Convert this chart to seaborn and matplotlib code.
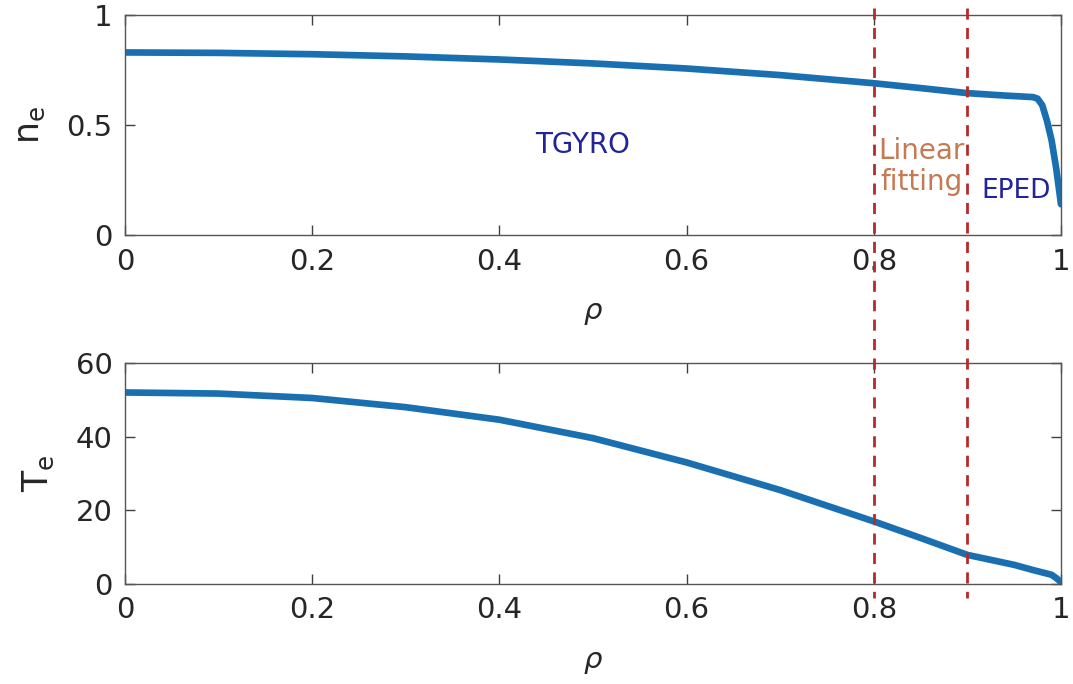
import numpy as np
import pandas as pd
import seaborn as sns
import matplotlib.pyplot as plt
from matplotlib.transforms import blended_transform_factory
from matplotlib.lines import Line2D

# electron density profile
rho_ne = [0.0, 0.1, 0.2, 0.3, 0.4, 0.5, 0.6, 0.7, 0.8, 0.85, 0.9, 0.94,
          0.97, 0.975, 0.98, 0.985, 0.99, 0.995, 1.0]
ne = [0.83, 0.828, 0.822, 0.812, 0.798, 0.78, 0.757, 0.727, 0.69, 0.668,
      0.645, 0.634, 0.627, 0.62, 0.59, 0.52, 0.43, 0.30, 0.14]

# electron temperature profile
rho_te = [0.0, 0.1, 0.2, 0.3, 0.4, 0.5, 0.6, 0.7, 0.8, 0.85, 0.9, 0.95,
          0.97, 0.99, 0.995, 1.0]
te = [52.0, 51.7, 50.5, 48.0, 44.6, 39.6, 33.0, 25.5, 17.0, 12.5, 7.9,
      5.2, 3.8, 2.5, 1.6, 0.5]

boundaries = [0.8, 0.9]

sns.set_style("ticks")
plt.rcParams["font.family"] = ["DejaVu Sans"]

fig = plt.figure(figsize=(10.73, 6.84), dpi=100)
ax1 = fig.add_axes([0.1165, 0.6564, 0.8723, 0.3216])
ax2 = fig.add_axes([0.1165, 0.1462, 0.8723, 0.3231])

line_color = "#1a6fb0"
df_ne = pd.DataFrame({"rho": rho_ne, "ne": ne})
df_te = pd.DataFrame({"rho": rho_te, "te": te})

sns.lineplot(data=df_ne, x="rho", y="ne", ax=ax1, color=line_color,
             linewidth=4.8, sort=False)
sns.lineplot(data=df_te, x="rho", y="te", ax=ax2, color=line_color,
             linewidth=4.8, sort=False)

ax1.set_xlim(0, 1)
ax1.set_ylim(0, 1)
ax1.set_yticks([0, 0.5, 1])
ax1.set_yticklabels(["0", "0.5", "1"])
ax2.set_xlim(0, 1)
ax2.set_ylim(0, 60)
ax2.set_yticks([0, 20, 40, 60])

for ax in (ax1, ax2):
    ax.set_xticks([0, 0.2, 0.4, 0.6, 0.8, 1.0])
    ax.set_xticklabels(["0", "0.2", "0.4", "0.6", "0.8", "1"])
    ax.tick_params(direction="in", length=7, width=1, top=True, right=True,
                   labelsize=21, colors="#404040", labelcolor="#262626",
                   pad=9)
    for s in ax.spines.values():
        s.set_color("#555555")
        s.set_linewidth(1.0)
    ax.set_xlabel(r"$\rho$", fontsize=21, color="#262626", labelpad=17)

ax1.set_ylabel(r"n$_{\rm e}$", fontsize=25, color="#262626", labelpad=14)
ax2.set_ylabel(r"T$_{\rm e}$", fontsize=25, color="#262626", labelpad=14)

ax1.text(0.489, 0.41, "TGYRO", color="#23239a", fontsize=20,
         ha="center", va="center")
ax1.text(0.851, 0.31, "Linear\nfitting", color="#c47a52", fontsize=20,
         ha="center", va="center", linespacing=1.15)
ax1.text(0.952, 0.2, "EPED", color="#23239a", fontsize=19,
         ha="center", va="center")

trans = blended_transform_factory(ax1.transData, fig.transFigure)
for b in boundaries:
    fig.add_artist(Line2D([b, b], [1 - 8 / 684, 1 - 598 / 684],
                          transform=trans, color="#b52a2a",
                          linestyle=(0, (4, 3)), linewidth=2))

fig.savefig("out.png", dpi=100)
